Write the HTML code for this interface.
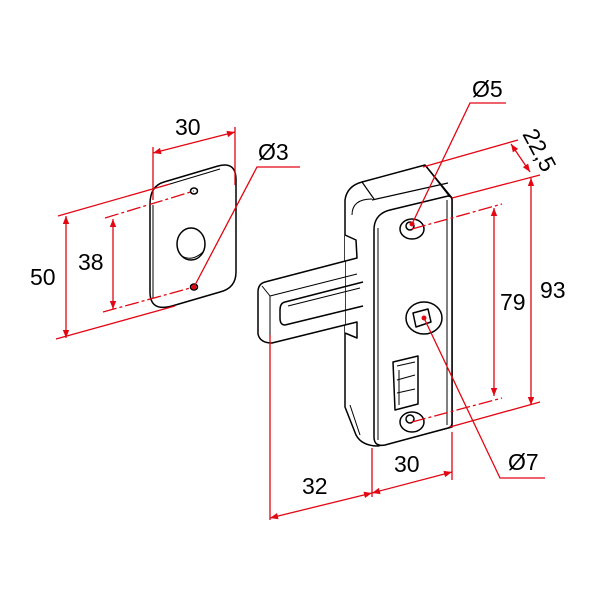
<!DOCTYPE html>
<html><head><style>html,body{margin:0;padding:0;background:#fff}svg{display:block}</style></head>
<body>
<svg width="600" height="600" viewBox="0 0 600 600" xmlns="http://www.w3.org/2000/svg">
<defs>
<marker id="a" viewBox="0 0 10 10" refX="10" refY="5" markerWidth="12" markerHeight="8" orient="auto-start-reverse" markerUnits="userSpaceOnUse"><path d="M0,1 L10,5 L0,9 Z" fill="#e30613"/></marker>
</defs>
<g fill="none" stroke="#000" stroke-width="1.5" stroke-linejoin="round">
<!-- plate -->
<path d="M164,182 L218,166 Q236,161 236,180 L236,272 Q236,288 220,292 L172,306 Q150,312 150,292 L150,204 Q150,186 164,182 Z" fill="#fff"/>
<path d="M153,205 L153,298" stroke-width="1"/>
<path d="M160,187 L220,169" stroke-width="1"/>
<ellipse cx="194" cy="191" rx="3.5" ry="3"/>
<ellipse cx="194" cy="287" rx="3.5" ry="3"/>
<ellipse cx="191" cy="244" rx="14" ry="16"/>
<path d="M182,256 Q192,262 203,252" stroke-width="1"/>
<!-- body back / side -->
<path d="M362,182 L425,165 L452,198 L452,427 L378,446 Q362,446 356,435 L345,407 L345,200 Q347,186 362,182 Z" fill="#fff"/>
<path d="M362,182 L374,199 M425,165 L450,197" stroke-width="1.2"/>
<path d="M372,200 L448,183" stroke-width="1.2"/>
<path d="M352,215 Q352,199 372,199" stroke-width="1"/>
<path d="M350,405 L360,435" stroke-width="1"/>
<!-- front face -->
<path d="M390,210 L448,196 Q452,196 452,200 L452,423 Q452,427 448,428 L385,445 Q374,447 374,437 L374,230 Q374,214 390,210 Z" fill="#fff"/>
<path d="M378,228 L378,440" stroke-width="1"/>
<path d="M447,200 L447,425" stroke-width="1"/>
<!-- bolt -->
<path d="M345,235 L356,240 L357,258 L265,282 Q258,284 258,292 L258,334 Q260,343 272,343 L357,322 L357,338 L345,333" fill="#fff"/>
<path d="M262,286 L270,296 L357,274" stroke-width="1"/>
<path d="M270,296 L270,343" stroke-width="1"/>
<path d="M285,302 L363,282 M285,325 L363,306 M285,302 Q280,303 280,310 L280,318 Q280,325 285,325" />
<path d="M288,306 L360,288" stroke-width="1"/>
<!-- holes -->
<ellipse cx="412" cy="229" rx="12" ry="10"/>
<ellipse cx="410" cy="226" rx="4" ry="4"/>
<ellipse cx="412" cy="422" rx="12" ry="10"/>
<ellipse cx="410" cy="419" rx="4" ry="4"/>
<ellipse cx="424" cy="318" rx="18" ry="16"/>
<path d="M413,313 L428,309 L431,322 L416,327 Z"/>
<!-- slider -->
<path d="M393,362 L418,356 L418,404 L395,410 Z" fill="#fff"/>
<path d="M397,366 L415,362 M397,380 L415,375 M397,393 L415,389 M399,370 L399,405" stroke-width="1"/>
</g>
<g fill="none" stroke="#e30613" stroke-width="1.3">
<path d="M153,147 L153,200 M235,127 L235,185"/>
<path d="M153,153 L235,132" marker-start="url(#a)" marker-end="url(#a)"/>
<path d="M58,216 L170,184 M56,339 L175,306"/>
<path d="M66,216 L66,338" marker-start="url(#a)" marker-end="url(#a)"/>
<path d="M105,218 L194,191 M103,312 L194,287" stroke-dasharray="14,3,3,3"/>
<path d="M113,219 L113,309" marker-start="url(#a)" marker-end="url(#a)"/>
<path d="M194,287 L257,167 L300,167"/>
<path d="M423,167 L518,140 M452,198 L540,175 M450,427 L540,402"/>
<path d="M511,144 L530,172" marker-start="url(#a)" marker-end="url(#a)"/>
<path d="M531,178 L531,405" marker-start="url(#a)" marker-end="url(#a)"/>
<path d="M412,229 L502,204 M412,422 L502,398" stroke-dasharray="14,3,3,3"/>
<path d="M494,208 L494,396" marker-start="url(#a)" marker-end="url(#a)"/>
<path d="M412,224 L470,103 L506,103"/>
<path d="M424,318 L500,478 L545,478"/>
<path d="M372,448 L372,497 M452,432 L452,480 M270,335 L270,520"/>
<path d="M372,493 L452,472" marker-start="url(#a)" marker-end="url(#a)"/>
<path d="M270,518 L372,493" marker-start="url(#a)" marker-end="url(#a)"/>
</g>
<g fill="#e30613"><circle cx="194" cy="287" r="2.5"/><circle cx="412" cy="224" r="2.5"/><circle cx="424" cy="318" r="2.5"/></g>
<g font-family="Liberation Sans, sans-serif" font-size="23" fill="#000">
<text x="175" y="135">30</text>
<text x="258" y="160">Ø3</text>
<text x="30" y="285">50</text>
<text x="78" y="270">38</text>
<text x="472" y="97">Ø5</text>
<text x="522" y="134" transform="rotate(62 522 134)">22,5</text>
<text x="540" y="298">93</text>
<text x="500" y="310">79</text>
<text x="508" y="470">Ø7</text>
<text x="394" y="472">30</text>
<text x="302" y="494">32</text>
</g>
</svg>
</body></html>
